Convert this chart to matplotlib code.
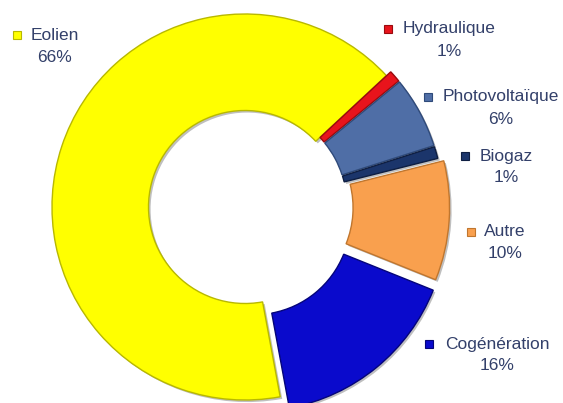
import matplotlib
matplotlib.use("Agg")
import matplotlib.pyplot as plt
import matplotlib.patheffects as pe

# Energy mix shares (%)
categories = ["Eolien", "Hydraulique", "Photovoltaïque", "Biogaz", "Autre", "Cogénération"]
shares = [66, 1, 6, 1, 10, 16]
colors = ["#FFFF00", "#E8141C", "#4F6EA6", "#1B356B", "#F9A04E", "#0A0ACC"]
edges = ["#B8B800", "#9A0A0E", "#2F4A7A", "#0E1E42", "#C0762E", "#05057A"]
explode_frac = [0.0, 0.03, 0.03, 0.03, 0.06, 0.075]

W, H = 563, 403
fig = plt.figure(figsize=(W / 100, H / 100), dpi=100)
ax = fig.add_axes([0, 0, 1, 1])

cx, cy, R = 245, H - 207, 193
wedges, _ = ax.pie(
    shares,
    colors=colors,
    explode=[e * R for e in explode_frac],
    startangle=-79.5,
    counterclock=False,
    center=(cx, cy),
    radius=R,
    frame=True,
    wedgeprops=dict(width=R * 0.5, linewidth=1.0),
)
for w, ec in zip(wedges, edges):
    w.set_edgecolor(ec)
    w.set_path_effects([
        pe.SimplePatchShadow(offset=(1.5, -1.5), shadow_rgbFace="#000000", alpha=0.25),
        pe.Normal(),
    ])
ax.set_xlim(0, W)
ax.set_ylim(0, H)
ax.set_aspect("equal")
ax.axis("off")

# Label blocks: marker x, name centre x, name row (pixels from top)
marker_x = [17, 388, 428, 465, 471, 429]
name_cx = [55, 449, 501, 506, 505, 497]
row_y = [35, 29, 97, 156, 232, 344]

txt_color = "#33406A"
for cat, val, col, ec, mx, nx, ry in zip(categories, shares, colors, edges,
                                         marker_x, name_cx, row_y):
    ax.plot(mx, H - ry, marker="s", markersize=6.2, markerfacecolor=col,
            markeredgecolor=ec, markeredgewidth=0.8, linestyle="none")
    ax.text(nx, H - ry, cat, ha="center", va="center", fontsize=12.5,
            family="Liberation Sans", color=txt_color)
    ax.text(nx, H - ry - 22, f"{val}%", ha="center", va="center", fontsize=12.5,
            family="Liberation Sans", color=txt_color)

fig.savefig("out.png", dpi=100, facecolor="white")
